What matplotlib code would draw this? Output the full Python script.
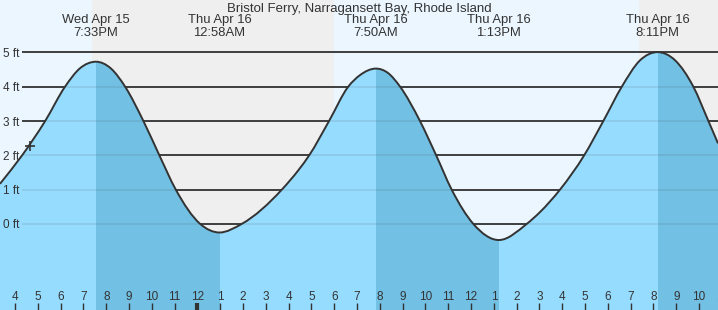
import matplotlib.pyplot as plt
from matplotlib.path import Path
from matplotlib.patches import PathPatch, Rectangle

# hours counted from Wed Apr 15 00:00, water level in ft
tide_hours = [15.34, 16.31, 17.32, 18.19, 18.85, 19.55, 20.21, 20.83, 21.63, 22.33,
              23.05, 24.12, 24.97, 25.94, 27.70, 28.43, 28.90, 29.77, 30.61, 31.13,
              31.83, 32.36, 32.89, 33.76, 34.47, 35.15, 36.10, 37.22, 38.44, 39.03,
              39.90, 40.96, 41.80, 42.61, 43.41, 44.18, 44.95, 45.75, 46.41, 46.83]
tide_ft = [1.17, 2.0, 3.0, 4.0, 4.54, 4.73, 4.53, 4.0, 3.0, 2.0,
           1.0, 0.0, -0.25, 0.0, 1.0, 1.57, 2.0, 3.0, 4.0, 4.34,
           4.53, 4.40, 4.0, 3.0, 2.0, 1.0, 0.0, -0.47, 0.0, 0.35,
           1.0, 2.0, 3.0, 4.0, 4.77, 5.01, 4.77, 4.0, 3.0, 2.35]

extreme_hours = [19.55, 24.97, 31.83, 37.22, 44.18]
extreme_days = ["Wed Apr 15", "Thu Apr 16", "Thu Apr 16", "Thu Apr 16", "Thu Apr 16"]
extreme_times = ["7:33PM", "12:58AM", "7:50AM", "1:13PM", "8:11PM"]

night_start = [19.38, 43.37]
night_end = [30.01, 46.83]

now_hour = 16.67
now_ft = 2.27

hour_ticks = list(range(16, 48))
ft_levels = [0, 1, 2, 3, 4, 5]
title = "Bristol Ferry, Narragansett Bay, Rhode Island"

x_min, x_max = 15.34, 46.83
y_min, y_max = -2.51, 6.53

day_bg = "#ebf6ff"
night_bg = "#efefef"
flood_fill = "#96dcfe"
ebb_fill = "#72c0e4"
ink = "#333333"

plt.rcParams["font.family"] = ["Liberation Sans", "DejaVu Sans"]


def smooth_curve(xs, ys):
    # cubic bezier through the read points, 3-point derivative for the tangents
    n = len(xs)
    slopes = []
    for i in range(n):
        if i == 0:
            s = (ys[1] - ys[0]) / (xs[1] - xs[0])
        elif i == n - 1:
            s = (ys[-1] - ys[-2]) / (xs[-1] - xs[-2])
        elif (ys[i] - ys[i - 1]) * (ys[i + 1] - ys[i]) <= 0:
            s = 0.0
        else:
            h0 = xs[i] - xs[i - 1]
            h1 = xs[i + 1] - xs[i]
            s = (h0 * h0 * ys[i + 1] - h1 * h1 * ys[i - 1] + (h1 * h1 - h0 * h0) * ys[i]) / (h0 * h1 * (h0 + h1))
        slopes.append(s)
    verts = [(xs[0], ys[0])]
    codes = [Path.MOVETO]
    for i in range(n - 1):
        d = (xs[i + 1] - xs[i]) / 3
        verts += [(xs[i] + d, ys[i] + slopes[i] * d),
                  (xs[i + 1] - d, ys[i + 1] - slopes[i + 1] * d),
                  (xs[i + 1], ys[i + 1])]
        codes += [Path.CURVE4] * 3
    return verts, codes


fig = plt.figure(figsize=(7.18, 3.10), dpi=100, facecolor=day_bg)
ax = fig.add_axes([0, 0, 1, 1])
ax.set_xlim(x_min, x_max)
ax.set_ylim(y_min, y_max)
ax.axis("off")

for s, e in zip(night_start, night_end):
    ax.axvspan(s, e, color=night_bg, lw=0, zorder=0)

ax.hlines(ft_levels, 22 / 718, 1, transform=ax.get_yaxis_transform(), color=ink, lw=1.3, zorder=1)

verts, codes = smooth_curve(tide_hours, tide_ft)
fill_verts = verts + [(tide_hours[-1], y_min), (tide_hours[0], y_min), (tide_hours[0], tide_ft[0])]
fill_codes = codes + [Path.LINETO, Path.LINETO, Path.CLOSEPOLY]
fill_path = Path(fill_verts, fill_codes)

ax.add_patch(PathPatch(fill_path, fc=flood_fill, lw=0, zorder=2))
# falling tide (high -> next low) is shaded darker
ebb_ends = extreme_hours[1::2] + [x_max]
for s, e in zip(extreme_hours[0::2], ebb_ends):
    p = PathPatch(fill_path, fc=ebb_fill, lw=0, zorder=2.5)
    ax.add_patch(p)
    clip = Rectangle((s, y_min), e - s, y_max - y_min, transform=ax.transData)
    p.set_clip_path(clip)

ax.hlines(ft_levels, 22 / 718, 1, transform=ax.get_yaxis_transform(), color=ink, lw=1.3, alpha=0.1, zorder=3)
ax.add_patch(PathPatch(Path(verts, codes), fill=False, ec=ink, lw=1.4, zorder=4))
ax.plot(now_hour, now_ft, marker="+", ms=7.5, mew=1.2, color=ink, zorder=5)

for v in ft_levels:
    ax.text(3 / 718, v, f"{v} ft", transform=ax.get_yaxis_transform(), ha="left",
            va="center_baseline", fontsize=8.5, color=ink, zorder=6)

for h in hour_ticks:
    lab = h % 12
    if lab == 0:
        lab = 12
    ax.vlines(h, 0, 7.5 / 310, transform=ax.get_xaxis_transform(), color=ink,
              lw=3 if h == 24 else 1, zorder=6)
    ax.text(h, 10 / 310, str(lab), transform=ax.get_xaxis_transform(), ha="center",
            va="baseline", fontsize=8.5, color=ink, zorder=6)

for h, d, t in zip(extreme_hours, extreme_days, extreme_times):
    ax.text(h, 1 - 20.5 / 310, d, transform=ax.get_xaxis_transform(), ha="center",
            va="center", fontsize=9.4, color=ink, zorder=6)
    ax.text(h, 1 - 32.5 / 310, t, transform=ax.get_xaxis_transform(), ha="center",
            va="center", fontsize=9.4, color=ink, zorder=6)

ax.text(0.5, 1 - 9 / 310, title, transform=ax.transAxes, ha="center", va="center",
        fontsize=9.5, color=ink, zorder=6)

fig.savefig("out.png", dpi=100, facecolor=day_bg)
